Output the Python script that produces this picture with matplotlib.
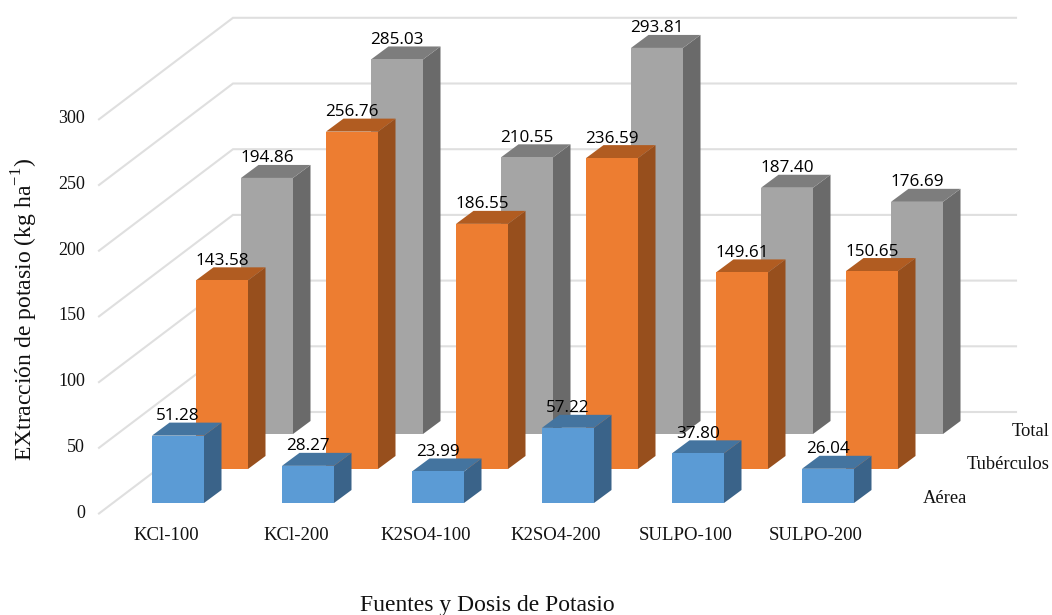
import matplotlib
matplotlib.use('Agg')
import matplotlib.pyplot as plt
from matplotlib.patches import Polygon

plt.rcParams['font.family'] = 'Liberation Serif'
plt.rcParams['mathtext.fontset'] = 'custom'
plt.rcParams['mathtext.rm'] = 'Liberation Serif'

categories = ['KCl-100', 'KCl-200', 'K2SO4-100', 'K2SO4-200', 'SULPO-100', 'SULPO-200']
series_names = ['Aérea', 'Tubérculos', 'Total']
aerea = [51.28, 28.27, 23.99, 57.22, 37.80, 26.04]
tuberculos = [143.58, 256.76, 186.55, 236.59, 149.61, 150.65]
total = [194.86, 285.03, 210.55, 293.81, 187.40, 176.69]
yticks = [0, 50, 100, 150, 200, 250, 300]

# pixels per unit on the y axis, value 0 of the front row sits at pixel 503
s = 1.314
y0 = 503

def py(p):
    return (y0 - p) / s

fig = plt.figure(figsize=(10.52, 6.15), dpi=100)
ax = fig.add_axes([0, 0, 1, 1])
ax.set_xlim(0, 1052)
ax.set_ylim(py(615), py(0))
ax.axis('off')

# walls
wall_dx = 134
wall_dy = 101.5 / s
front = py(513.5)
for v in yticks:
    ax.plot([99, 99 + wall_dx, 1016],
            [front + v, front + v + wall_dy, front + v + wall_dy],
            color='#dfdfdf', lw=1.5, solid_joinstyle='miter', zorder=1)
    ax.text(85, front + v + 0.5 / s, str(v), ha='right', va='center', fontsize=13, color='#111111')

# bars, back row first
w = 52
dx = 17.5
dy = 13 / s
rows = [
    (total, 241, 69 / s, '#a5a5a5', '#7d7d7d', '#6a6a6a'),
    (tuberculos, 196, 34 / s, '#ed7d31', '#b15c21', '#974f1d'),
    (aerea, 152, 0, '#5b9bd5', '#44749f', '#3a6389'),
]
z = 2
for vals, x0, base, c_front, c_top, c_side in rows:
    for i, v in enumerate(vals):
        x = x0 + 130 * i
        ax.add_patch(Polygon([(x + w, base), (x + w + dx, base + dy), (x + w + dx, base + v + dy), (x + w, base + v)],
                             fc=c_side, ec='none', zorder=z))
        ax.add_patch(Polygon([(x, base + v), (x + w, base + v), (x + w + dx, base + v + dy), (x + dx, base + v + dy)],
                             fc=c_top, ec='none', zorder=z))
        ax.add_patch(Polygon([(x, base), (x + w, base), (x + w, base + v), (x, base + v)],
                             fc=c_front, ec='none', zorder=z))
    z += 1

for vals, x0, base, c_front, c_top, c_side in rows:
    for i, v in enumerate(vals):
        ax.text(x0 + 130 * i + w / 2, base + v + 19.5 / s, '%.2f' % v, ha='center', va='center',
                fontsize=12.3, family='Open Sans', color='#000000', zorder=10)

for i, c in enumerate(categories):
    ax.text(166 + 130 * i, py(535.5), c, ha='center', va='center', fontsize=13.5, color='#111111')

ax.text(1050, py(431), series_names[2], ha='right', va='center', fontsize=13.3, color='#111111')
ax.text(1050, py(464.5), series_names[1], ha='right', va='center', fontsize=13.3, color='#111111')
ax.text(967, py(498.5), series_names[0], ha='right', va='center', fontsize=13.3, color='#111111')

ax.text(487, py(606), 'Fuentes y Dosis de Potasio', ha='center', va='center', fontsize=17, color='#111111')
ax.text(25, py(310), r'EXtracción de potasio (kg ha$^{\mathrm{-1}}$)', rotation=90,
        ha='center', va='center', fontsize=17, color='#111111')

fig.savefig('out.png', dpi=100)
